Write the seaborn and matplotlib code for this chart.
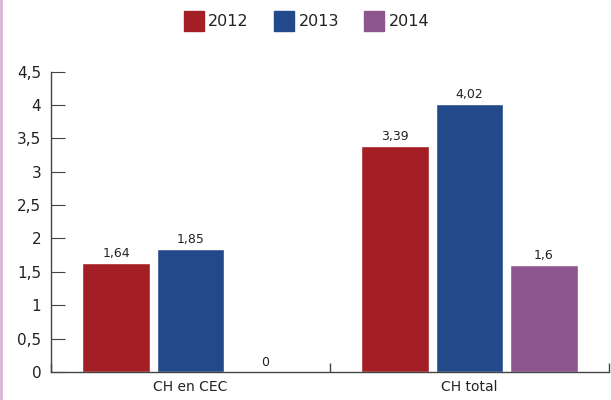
import pandas as pd
import numpy as np
import seaborn as sns
import matplotlib.pyplot as plt
from matplotlib.lines import Line2D
from matplotlib.ticker import FuncFormatter

# Values
categories = ["CH en CEC", "CH total"]
years = ["2012", "2013", "2014"]
values_2012 = [1.64, 3.39]
values_2013 = [1.85, 4.02]
values_2014 = [0, 1.6]
colors = ["#A41F25", "#224A8A", "#8D558D"]

data = pd.DataFrame({
    "category": categories * 3,
    "year": [y for y in years for _ in categories],
    "value": values_2012 + values_2013 + values_2014,
})

sns.set_style("white")
plt.rcParams["font.family"] = ["DejaVu Sans"]

fig = plt.figure(figsize=(6.11, 4), dpi=100)
ax = fig.add_axes([0.0835, 0.07, 0.9132, 0.751])

sns.barplot(data=data, x="category", y="value", hue="year", palette=colors,
            width=0.8, gap=0.09, saturation=1, legend=False, ax=ax)

# value labels with comma decimals
comma = lambda v: ("%g" % v).replace(".", ",")
for cont in ax.containers:
    ax.bar_label(cont, labels=[comma(b.get_height()) for b in cont],
                 padding=2, fontsize=9, color="#222222")

ax.set_xlim(-0.5, 1.5)
ax.set_ylim(0, 4.5)
ax.set_yticks(np.arange(0, 4.51, 0.5))
ax.yaxis.set_major_formatter(FuncFormatter(lambda v, p: comma(v)))
ax.set_xlabel("")
ax.set_ylabel("")

# small separator ticks between the categories
ax.set_xticks([-0.5, 0.5, 1.5], minor=True)
ax.tick_params(axis="x", which="major", bottom=False, length=0, pad=6,
               labelsize=10, labelcolor="#222222")
ax.tick_params(axis="x", which="minor", bottom=True, direction="in", length=6.5,
               width=1, color="#444444")
ax.tick_params(axis="y", direction="in", length=10, pad=7, labelsize=11,
               color="#444444", labelcolor="#222222", left=True)

sns.despine(ax=ax, top=True, right=True)
for side in ["left", "bottom"]:
    ax.spines[side].set_color("#444444")
    ax.spines[side].set_linewidth(1)

# legend
handles = [Line2D([], [], marker="s", linestyle="", markersize=14,
                  markerfacecolor=c, markeredgecolor=c) for c in colors]
fig.legend(handles, years, loc="upper center", bbox_to_anchor=(0.502, 1.0),
           ncol=3, frameon=False, fontsize=11.5, handletextpad=0.3,
           columnspacing=1.6, handlelength=1.2, labelcolor="#222222")

# pink left border
fig.add_artist(Line2D([0.002, 0.002], [0, 1], color="#D8B4D4", linewidth=2,
                      transform=fig.transFigure))

fig.savefig("out.png", dpi=100)
